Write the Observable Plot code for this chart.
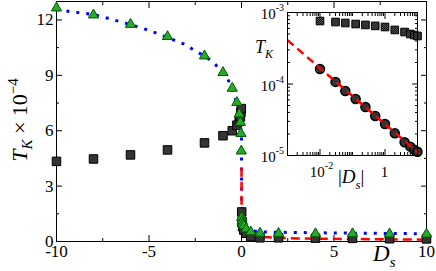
<!DOCTYPE html>
<html><head><meta charset="utf-8">
<script src="https://cdn.jsdelivr.net/npm/d3@7"></script>
<script src="https://cdn.jsdelivr.net/npm/@observablehq/plot@0.6"></script>
<style>
body{margin:0;background:#fff;}
#wrap{position:relative;width:436px;height:271px;overflow:hidden;}
#wrap svg{position:absolute;left:0;top:0;}
</style></head><body>
<svg width="0" height="0" style="position:absolute">
<defs>
<pattern id="chkK" width="2" height="2" patternUnits="userSpaceOnUse">
<rect width="2" height="2" fill="#5e5e5e"/><rect width="1" height="1" fill="#0a0a0a"/><rect x="1" y="1" width="1" height="1" fill="#0a0a0a"/>
</pattern>
<pattern id="chkG" width="2" height="2" patternUnits="userSpaceOnUse">
<rect width="2" height="2" fill="#46c846"/><rect width="1" height="1" fill="#0a8a0a"/><rect x="1" y="1" width="1" height="1" fill="#0a8a0a"/>
</pattern>
</defs></svg>
<div id="wrap"></div>
<script>
// ---- data (T_K in units of 1e-4 for the main panel) ----
const dNeg = [-10,-8,-6,-4,-2,-1,-0.5,-0.25,-0.125,-0.06,-0.03,-0.01];
const dPos = [0.01,0.03,0.06,0.125,0.25,0.5,1,2,4,6,8,10];
const squaresNeg = [4.34,4.47,4.69,4.96,5.34,5.73,6.0,6.3,6.5,6.75,7.0,7.2];
const squaresPos = [1.6,1.07,0.8,0.62,0.45,0.27,0.2,0.2,0.18,0.17,0.15,0.14];
const trianglesNeg = [12.65,12.27,11.76,11.1,10.05,9.15,8.3,7.53,6.9,6.45,5.85,4.9];
const trianglesPos = [1.3,1.1,0.95,0.85,0.68,0.52,0.45,0.44,0.42,0.42,0.41,0.4];
const blueD = [-10,-9,-8,-7,-6,-5,-4,-3,-2.5,-2,-1.5,-1.14,-0.77,-0.36,-0.15,-0.05,0,0.003,0.01,0.03,0.1,0.3,0.6,1,2,5,10];
const blueT = [12.56,12.42,12.3,12.03,11.75,11.44,11.05,10.65,10.32,10.05,9.69,9.28,8.88,7.9,7.0,6.3,5.64,3.5,2.0,1.3,0.9,0.7,0.58,0.52,0.5,0.46,0.42];
const redD = [0.001,0.003,0.01,0.03,0.1,0.3,1,3,10];
const redT = [4.0,2.5,1.6,1.0,0.64,0.4,0.25,0.16,0.10];
// inset (absolute T_K vs |D_s|)
const insetD = [0.01,0.03,0.06,0.125,0.25,0.5,1,2,4,6,8,10];
const insetSquares = [7.6e-4,7.36e-4,7.13e-4,6.9e-4,6.7e-4,6.5e-4,6.27e-4,5.7e-4,5.33e-4,5.0e-4,4.84e-4,4.69e-4];
const insetCircles = [1.62e-4,1.07e-4,7.98e-5,6.17e-5,4.77e-5,3.57e-5,2.76e-5,2.05e-5,1.53e-5,1.33e-5,1.2e-5,1.13e-5];
const insetFitD = [0.001,10];
const insetFitT = [4.1e-4,1.12e-5];
// ticks
const xTicks = [-10,-5,0,5,10];
const xMinor = [-7.5,-2.5,2.5,7.5];
const yTicks = [0,3,6,9,12];
const yMinor = [1.5,4.5,7.5,10.5];
const insetXMajor = [0.01,1];
const insetXMinor = [0.002,0.003,0.004,0.005,0.006,0.007,0.008,0.009,0.02,0.03,0.04,0.05,0.06,0.07,0.08,0.09,0.1,0.2,0.3,0.4,0.5,0.6,0.7,0.8,0.9,2,3,4,5,6,7,8,9];
const insetYMajor = [1e-5,1e-4,1e-3];
const insetYMinor = [2e-5,3e-5,4e-5,5e-5,6e-5,7e-5,8e-5,9e-5,2e-4,3e-4,4e-4,5e-4,6e-4,7e-4,8e-4,9e-4];
const insetXLabels = [{v:0.01, base:"10", exp:"-2"},{v:1, base:"1", exp:""}];
const insetYLabels = [{v:1e-3, base:"10", exp:"-3"},{v:1e-4, base:"10", exp:"-4"},{v:1e-5, base:"10", exp:"-5"}];

// ---- build tables ----
const zip = (xs, ys) => xs.map((d,i)=>({d, t: ys[i]}));
const squares = zip(dNeg, squaresNeg).concat(zip(dPos, squaresPos));
const triangles = zip(dNeg, trianglesNeg).concat(zip(dPos, trianglesPos));
const blue = zip(blueD, blueT);
const red = zip(redD, redT);
const inSq = zip(insetD, insetSquares);
const inCi = zip(insetD, insetCircles);
const inFit = zip(insetFitD, insetFitT);

const W = 436, H = 271;
const FONT = "'Liberation Serif','Times New Roman',serif";
const hy = d => d < 0 ? "-" + Math.abs(d) : String(d);
const blank = () => "";
const tk = (axis, anchor, ticks, size) => axis({anchor, ticks, tickSize: size, tickFormat: blank, label: null, strokeWidth: 1});

const main = Plot.plot({
  width: W, height: H, marginLeft: 56, marginRight: 10, marginTop: 1, marginBottom: 30,
  x: {domain: [-10, 10]}, y: {domain: [0, 13]},
  style: {fontFamily: FONT, fontSize: "17px", background: "transparent", overflow: "visible", color: "#000"},
  marks: [
    tk(Plot.axisX, "bottom", xTicks, -6), tk(Plot.axisX, "bottom", xMinor, -3),
    tk(Plot.axisX, "top", xTicks, -6), tk(Plot.axisX, "top", xMinor, -3),
    tk(Plot.axisY, "left", yTicks, -6), tk(Plot.axisY, "left", yMinor, -3),
    tk(Plot.axisY, "right", yTicks, -6), tk(Plot.axisY, "right", yMinor, -3),
    Plot.axisX({anchor: "bottom", ticks: xTicks, tickSize: 0, tickPadding: 3, tickFormat: hy, label: null}),
    Plot.axisY({anchor: "left", ticks: yTicks, tickSize: 0, tickPadding: 3, tickFormat: hy, label: null}),
    Plot.frame({stroke: "#000", strokeWidth: 1}),
    Plot.line(blue, {x: "d", y: "t", stroke: "#0000ff", strokeWidth: 3, strokeDasharray: "3 7", strokeLinecap: "butt"}),
    Plot.line(red, {x: "d", y: "t", stroke: "#ff0000", strokeWidth: 2.5, strokeDasharray: "9 5", strokeLinecap: "butt"}),
    Plot.dot(squares, {x: "d", y: "t", symbol: "square", r: 4.8, fill: "url(#chkK)", stroke: "#000", strokeWidth: 1}),
    Plot.dot(triangles, {x: "d", y: "t", symbol: "triangle", r: 3.8, fill: "url(#chkG)", stroke: "#005a00", strokeWidth: 1})
  ]
});

const inset = Plot.plot({
  width: W, height: H, marginLeft: 287, marginRight: 19, marginTop: 12, marginBottom: 116,
  x: {type: "log", domain: [1e-3, 10]}, y: {type: "log", domain: [1e-5, 1e-3]},
  style: {fontFamily: FONT, fontSize: "15px", background: "transparent", overflow: "visible", color: "#000"},
  marks: [
    Plot.frame({fill: "#fff", stroke: "none"}),
    tk(Plot.axisX, "bottom", insetXMajor, -6), tk(Plot.axisX, "bottom", insetXMinor, -3),
    tk(Plot.axisX, "top", insetXMajor, -6), tk(Plot.axisX, "top", insetXMinor, -3),
    tk(Plot.axisY, "left", insetYMajor, -6), tk(Plot.axisY, "left", insetYMinor, -3),
    tk(Plot.axisY, "right", insetYMajor, -6), tk(Plot.axisY, "right", insetYMinor, -3),
    Plot.dot(inSq, {x: "d", y: "t", symbol: "square", r: 4.3, fill: "url(#chkK)", stroke: "#000", strokeWidth: 1}),
    Plot.dot(inCi, {x: "d", y: "t", r: 4.5, fill: "url(#chkK)", stroke: "#000", strokeWidth: 1.5}),
    Plot.line(inFit, {x: "d", y: "t", stroke: "#ff0000", strokeWidth: 2.5, strokeDasharray: "8 5", strokeLinecap: "butt"}),
    Plot.frame({stroke: "#000", strokeWidth: 1})
  ]
});

wrap.appendChild(main);
wrap.appendChild(inset);

// ---- rich text labels (italic, sub/superscripts) ----
function rich(svg, x, y, parts, {anchor = "start", rotate = 0, size = 17} = {}) {
  const t = d3.select(svg).append("text")
    .attr("transform", `translate(${x},${y}) rotate(${rotate})`)
    .attr("text-anchor", anchor)
    .attr("font-family", FONT).attr("font-size", size).attr("fill", "#000");
  for (const p of parts) {
    const s = t.append("tspan").text(p.t);
    if (p.italic) s.attr("font-style", "italic");
    if (p.size) s.attr("font-size", p.size);
    if (p.dy) s.attr("dy", p.dy);
  }
  return t;
}
// main axis titles
rich(main, 27, 120, [
  {t: "T", italic: true}, {t: "K", italic: true, size: 15, dy: 5},
  {t: " \u00d7 10", dy: -5}, {t: "\u22124", size: 15, dy: -9}
], {anchor: "middle", rotate: -90, size: 22});
rich(main, 373, 261, [{t: "D", italic: true}, {t: "s", italic: true, size: 15, dy: 6}], {size: 23});

// inset titles
rich(inset, 255, 53, [{t: "T", italic: true}, {t: "K", italic: true, size: 12, dy: 5}], {size: 18});
rich(inset, 338, 183, [{t: "|"}, {t: "D", italic: true}, {t: "s", italic: true, size: 13, dy: 6}, {t: "|", dy: -6}], {size: 19});

// inset tick labels through the inset's own scales
const sx = inset.scale("x"), sy = inset.scale("y");
for (const l of insetYLabels) {
  const y = sy.apply(l.v);
  rich(inset, 284, y + 7, [{t: l.base}, {t: l.exp, size: 10, dy: -8}], {anchor: "end", size: 15});
}
for (const l of insetXLabels) {
  const x = sx.apply(l.v);
  const parts = l.exp ? [{t: l.base}, {t: l.exp, size: 10, dy: -8}] : [{t: l.base}];
  rich(inset, x + (l.exp ? 2 : 0), 177, parts, {anchor: "middle", size: 15});
}
</script>
</body></html>
